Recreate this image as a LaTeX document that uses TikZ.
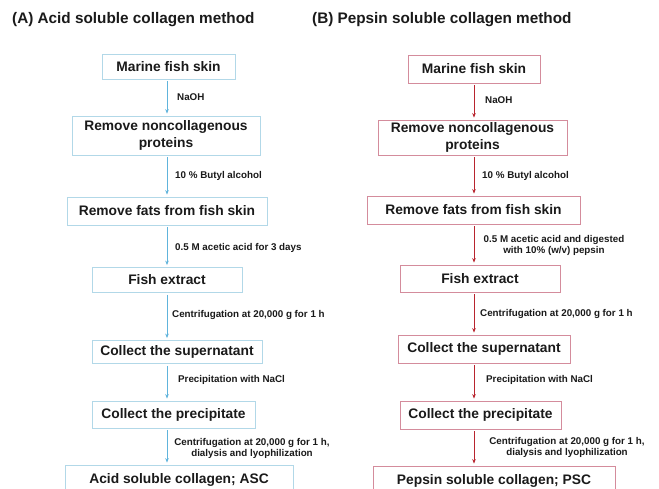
\documentclass[tikz,border=0pt]{standalone}
\usepackage{fontspec}
\setmainfont{Liberation Sans}
\usetikzlibrary{arrows.meta}
\definecolor{bluebd}{RGB}{178,216,232}
\definecolor{bluear}{RGB}{96,180,220}
\definecolor{redbd}{RGB}{212,140,156}
\definecolor{redar}{RGB}{184,36,46}
\definecolor{txt}{RGB}{26,26,26}
\tikzset{
  boxbase/.style={line width=0.8pt, inner sep=0pt, align=center, text=txt,
    font=\bfseries\fontsize{13.8}{17}\selectfont},
  boxA/.style={boxbase, draw=bluebd},
  boxB/.style={boxbase, draw=redbd},
  arrbase/.style={line width=1pt, shorten <=2pt, shorten >=2pt, -{Stealth[length=4.5pt,width=3.5pt]}},
  arrA/.style={arrbase, draw=bluear},
  arrB/.style={arrbase, draw=redar},
  lab/.style={font=\bfseries\fontsize{9.8}{11.5}\selectfont, inner sep=0pt, anchor=west, text=txt, text height=7pt, text depth=2pt},
  lab2/.style={font=\bfseries\fontsize{9.8}{11.8}\selectfont, inner sep=0pt, align=center, text=txt},
  ttl/.style={font=\bfseries\fontsize{15.3}{18}\selectfont, anchor=west, inner sep=0pt, text=txt, text height=11pt, text depth=0pt}
}
\begin{document}
\begin{tikzpicture}[x=1pt,y=-1pt]
\clip (0,0) rectangle (659,489);
\fill[white] (0,0) rectangle (659,489);
% titles
\node[ttl] (tA) at (12,18) {(A) Acid soluble collagen method};
\node[ttl] (tB) at (312,18) {(B) Pepsin soluble collagen method};
% axes
\coordinate (axA) at (167,0);
\coordinate (axB) at (474,0);
% left column
\node[boxA, minimum width=133pt, minimum height=25pt] (a1) at (168.5,66.5) {Marine fish skin};
\node[boxA, minimum width=188pt, minimum height=39pt] (a2) at (166,135.5) {Remove noncollagenous\\proteins};
\node[boxA, minimum width=200pt, minimum height=28pt] (a3) at (167,211) {Remove fats from fish skin};
\node[boxA, minimum width=150pt, minimum height=25pt] (a4) at (167,280) {Fish extract};
\node[boxA, minimum width=170pt, minimum height=23pt] (a5) at (177,352) {Collect the supernatant};
\node[boxA, minimum width=163pt, minimum height=27pt] (a6) at (173.5,414.5) {Collect the precipitate};
\node[boxA, minimum width=228pt, minimum height=30pt] (a7) at (179,480) {Acid soluble collagen; ASC};
\draw[arrA] (a1.south -| axA) -- (a2.north -| axA);
\draw[arrA] (a2.south -| axA) -- (a3.north -| axA);
\draw[arrA] (a3.south -| axA) -- (a4.north -| axA);
\draw[arrA] (a4.south -| axA) -- (a5.north -| axA);
\draw[arrA] (a5.south -| axA) -- (a6.north -| axA);
\draw[arrA] (a6.south -| axA) -- (a7.north -| axA);
\node[lab] (la1) at (177,98) {NaOH};
\node[lab] (la2) at (175,176) {10 \% Butyl alcohol};
\node[lab] (la3) at (175,248) {0.5 M acetic acid for 3 days};
\node[lab] (la4) at (172,315) {Centrifugation at 20,000 g for 1 h};
\node[lab] (la5) at (178,380) {Precipitation with NaCl};
\node[lab2] (la6) at (252,448.5) {Centrifugation at 20,000 g for 1 h,\\dialysis and lyophilization};
% right column
\node[boxB, minimum width=132pt, minimum height=28pt] (b1) at (474,69) {Marine fish skin};
\node[boxB, minimum width=189pt, minimum height=35pt] (b2) at (472.5,137.5) {Remove noncollagenous\\proteins};
\node[boxB, minimum width=213pt, minimum height=28pt] (b3) at (473.5,210) {Remove fats from fish skin};
\node[boxB, minimum width=160pt, minimum height=27pt] (b4) at (480,278.5) {Fish extract};
\node[boxB, minimum width=172pt, minimum height=28pt] (b5) at (484,349) {Collect the supernatant};
\node[boxB, minimum width=161pt, minimum height=28pt] (b6) at (480.5,415) {Collect the precipitate};
\node[boxB, minimum width=242pt, minimum height=30pt] (b7) at (494,481) {Pepsin soluble collagen; PSC};
\draw[arrB] (b1.south -| axB) -- (b2.north -| axB);
\draw[arrB] (b2.south -| axB) -- (b3.north -| axB);
\draw[arrB] (b3.south -| axB) -- (b4.north -| axB);
\draw[arrB] (b4.south -| axB) -- (b5.north -| axB);
\draw[arrB] (b5.south -| axB) -- (b6.north -| axB);
\draw[arrB] (b6.south -| axB) -- (b7.north -| axB);
\node[lab] (lb1) at (485,101) {NaOH};
\node[lab] (lb2) at (482,176) {10 \% Butyl alcohol};
\node[lab2] (lb3) at (554,245.5) {0.5 M acetic acid and digested\\with 10\% (w/v) pepsin};
\node[lab] (lb4) at (480,314) {Centrifugation at 20,000 g for 1 h};
\node[lab] (lb5) at (486,380) {Precipitation with NaCl};
\node[lab2] (lb6) at (567,447.5) {Centrifugation at 20,000 g for 1 h,\\dialysis and lyophilization};
\end{tikzpicture}
\end{document}
